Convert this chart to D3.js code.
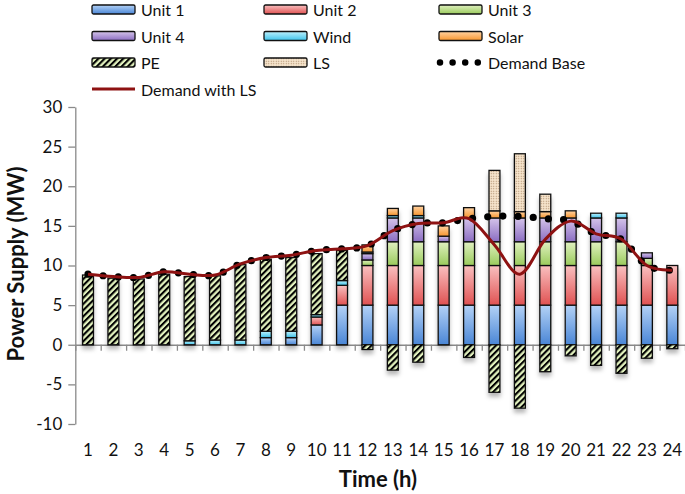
<!DOCTYPE html>
<html><head><meta charset="utf-8">
<script src="https://cdn.jsdelivr.net/npm/d3@7"></script>
<style>
body{margin:0;background:#fff}
svg{display:block}
text{font-family:Lato,"Open Sans",sans-serif;fill:#111}
</style>
</head><body>
<svg id="c" width="685" height="494"></svg>
<script>
// ---- data ----
const hours = [1,2,3,4,5,6,7,8,9,10,11,12,13,14,15,16,17,18,19,20,21,22,23,24];
const unit1 = [0,0,0,0,0,0,0,0.9,0.9,2.5,5,5,5,5,5,5,5,5,5,5,5,5,5,5];
const unit2 = [0,0,0,0,0,0,0,0,0,1.0,2.5,5,5,5,5,5,5,5,5,5,5,5,5,5];
const unit3 = [0,0,0,0,0,0,0,0,0,0,0,0.7,3,3,3,3,3,3,3,3,3,3,0.9,0];
const unit4 = [0,0,0,0,0,0,0,0,0,0,0,0.8,3,3,0.7,3,3,3,3,3,3,3,0.7,0];
const wind  = [0,0,0,0,0.5,0.6,0.6,0.8,0.8,0.3,0.6,0.2,0.3,0.3,0,0,0,0,0,0,0.6,0.6,0,0];
const solar = [0,0,0,0,0,0,0,0,0,0,0,0.9,0.9,1.2,1.3,1.3,0.9,0.8,0.8,0.9,0,0,0,0];
const pe    = [8.8,8.4,8.3,8.9,8.1,8.1,9.5,9.1,9.3,7.7,3.8,-0.6,-3.2,-2.2,0,-1.6,-6.0,-8.0,-3.4,-1.4,-2.6,-3.6,-1.7,-0.5];
const ls    = [0,0,0,0,0,0,0,0,0,0,0,0,0,0,0,0,5.1,7.3,2.2,0,0,0,0,0];
const demandBase = [8.9,8.6,8.5,9.2,8.9,8.8,10.2,11.0,11.3,11.9,12.1,12.5,14.4,15.3,15.4,15.9,16.2,16.2,15.9,15.6,14.0,13.3,10.0,9.4];
const demandLS   = [8.9,8.6,8.5,9.2,8.9,8.8,10.2,11.0,11.3,11.9,12.1,12.5,14.4,15.3,15.4,15.9,12.6,8.9,13.3,15.6,14.0,13.3,10.0,9.4];
const yTicks = [-10,-5,0,5,10,15,20,25,30];
const seriesNames = ["Unit 1","Unit 2","Unit 3","Unit 4","Wind","Solar","PE","LS"];
const seriesValues = [unit1,unit2,unit3,unit4,wind,solar,pe,ls];

// ---- styles ----
const grads = {
  "Unit 1":["#b4d2f6","#4a86d6"],
  "Unit 2":["#f9c0c0","#e05252"],
  "Unit 3":["#e0f0c0","#9acb5c"],
  "Unit 4":["#d4c4ea","#8b6dc2"],
  "Wind":["#bdf0fc","#3ec3ea"],
  "Solar":["#ffd2a2","#f7962f"]
};

const svg = d3.select("#c");
const defs = svg.append("defs");
Object.entries(grads).forEach(([k,c],i)=>{
  const g = defs.append("linearGradient").attr("id","g"+i)
    .attr("x1",0).attr("y1",0).attr("x2",0).attr("y2",1);
  g.append("stop").attr("offset","0%").attr("stop-color",c[0]);
  g.append("stop").attr("offset","100%").attr("stop-color",c[1]);
});
const pPE = defs.append("pattern").attr("id","pPE").attr("patternUnits","userSpaceOnUse")
  .attr("width",4.4).attr("height",4.4).attr("patternTransform","rotate(45)");
pPE.append("rect").attr("width",4.4).attr("height",4.4).attr("fill","#e3f3bf");
pPE.append("rect").attr("width",2.1).attr("height",4.4).attr("fill","#000");
const pLS = defs.append("pattern").attr("id","pLS").attr("patternUnits","userSpaceOnUse")
  .attr("width",2.5).attr("height",2.5);
pLS.append("rect").attr("width",2.5).attr("height",2.5).attr("fill","#f6e4cc");
pLS.append("circle").attr("cx",1.25).attr("cy",1.25).attr("r",0.6).attr("fill","#a88866");
const sh = defs.append("filter").attr("id","sh").attr("x","-50%").attr("y","-20%").attr("width","200%").attr("height","160%");
sh.append("feDropShadow").attr("dx",0).attr("dy",4).attr("stdDeviation",2)
  .attr("flood-color","#000").attr("flood-opacity",0.28);

function fillFor(name){
  if(name==="PE") return "url(#pPE)";
  if(name==="LS") return "url(#pLS)";
  return "url(#g"+Object.keys(grads).indexOf(name)+")";
}

// ---- scales ----
const x0 = 75.3, x1 = 685;
const pin = 0.57;
const x = d3.scaleBand().domain(hours).range([x0,x1]).paddingInner(pin).paddingOuter(pin/2);
const y = d3.scaleLinear().domain([-10,30]).range([424,107]);

// ---- axes ----
const yAx = svg.append("g").attr("transform",`translate(${x0},0)`)
  .call(d3.axisLeft(y).tickValues(yTicks).tickSize(7).tickPadding(6).tickSizeOuter(0).tickFormat(d=>String(d)));
yAx.select(".domain").attr("stroke","#8a8a8a").attr("stroke-width",1.3);
yAx.selectAll(".tick line").attr("stroke","#8a8a8a").attr("stroke-width",1.3);
yAx.selectAll(".tick text").style("font-size","17px").attr("fill","#111");

const xl = d3.scaleLinear().domain([0.5,24.5]).range([x0,x1]);
const bounds = hours.map(h=>h-0.5).concat([24.5]);
const xAx = svg.append("g").attr("transform",`translate(0,${y(0)})`)
  .call(d3.axisBottom(xl).tickValues(bounds).tickSize(6).tickSizeOuter(0).tickFormat(""));
xAx.select(".domain").attr("stroke","#8a8a8a").attr("stroke-width",1.3);
xAx.selectAll(".tick line").attr("stroke","#8a8a8a").attr("stroke-width",1.3);

const xLab = svg.append("g").attr("transform",`translate(0,444)`)
  .call(d3.axisBottom(x).tickSize(0).tickPadding(0));
xLab.select(".domain").remove();
xLab.selectAll(".tick text").style("font-size","17px").attr("fill","#111");

svg.append("text").attr("transform",`translate(24,264) rotate(-90)`)
  .attr("text-anchor","middle").style("font-size","22px").style("font-weight","bold")
  .text("Power Supply (MW)");
svg.append("text").attr("x",378).attr("y",487)
  .attr("text-anchor","middle").style("font-size","22px").style("font-weight","bold")
  .text("Time (h)");

// ---- stacked bars ----
const table = hours.map((h,i)=>{
  const o = {hour:h};
  seriesNames.forEach((n,j)=>o[n]=seriesValues[j][i]);
  return o;
});
const stack = d3.stack().keys(seriesNames).offset(d3.stackOffsetDiverging)(table);
const bars = svg.append("g").attr("filter","url(#sh)");
stack.forEach(layer=>{
  bars.append("g").selectAll("rect")
    .data(layer.filter(d=>d[1]!==d[0]))
    .join("rect")
    .attr("x",d=>x(d.data.hour))
    .attr("width",x.bandwidth())
    .attr("y",d=>y(Math.max(d[0],d[1])))
    .attr("height",d=>Math.abs(y(d[0])-y(d[1])))
    .attr("fill",fillFor(layer.key))
    .attr("stroke","#111").attr("stroke-width",1.3);
});

// ---- lines ----
const cx = h=>x(h)+x.bandwidth()/2;
const line = d3.line().x((d,i)=>cx(hours[i])).y(d=>y(d)).curve(d3.curveCardinal.tension(0));
svg.append("path").attr("d",line(demandBase)).attr("fill","none")
  .attr("stroke","#000").attr("stroke-width",7.2).attr("stroke-linecap","round")
  .attr("stroke-dasharray","0 15.2");
svg.append("path").attr("d",line(demandLS)).attr("fill","none")
  .attr("stroke","#8e1212").attr("stroke-width",3);

// ---- legend ----
const legCols = [92,264,439];
const legRows = [9.5,36,62.5,89];
const legItems = seriesNames.concat(["Demand Base","Demand with LS"]);
const leg = svg.append("g");
legItems.forEach((n,i)=>{
  const lx = legCols[i%3], ly = legRows[Math.floor(i/3)];
  if(n==="Demand Base"){
    leg.append("line").attr("x1",lx+1).attr("x2",lx+40).attr("y1",ly).attr("y2",ly)
      .attr("stroke","#000").attr("stroke-width",6.5).attr("stroke-linecap","round")
      .attr("stroke-dasharray","0 12.6");
  } else if(n==="Demand with LS"){
    leg.append("line").attr("x1",lx).attr("x2",lx+43).attr("y1",ly).attr("y2",ly)
      .attr("stroke","#8e1212").attr("stroke-width",3);
  } else {
    leg.append("rect").attr("x",lx).attr("y",ly-4.5).attr("width",43).attr("height",9)
      .attr("rx",1.5).attr("fill",fillFor(n)).attr("stroke","#111").attr("stroke-width",1.3);
  }
  leg.append("text").attr("x",lx+49).attr("y",ly+6.5).style("font-size","16px").text(n);
});
</script>
</body></html>
